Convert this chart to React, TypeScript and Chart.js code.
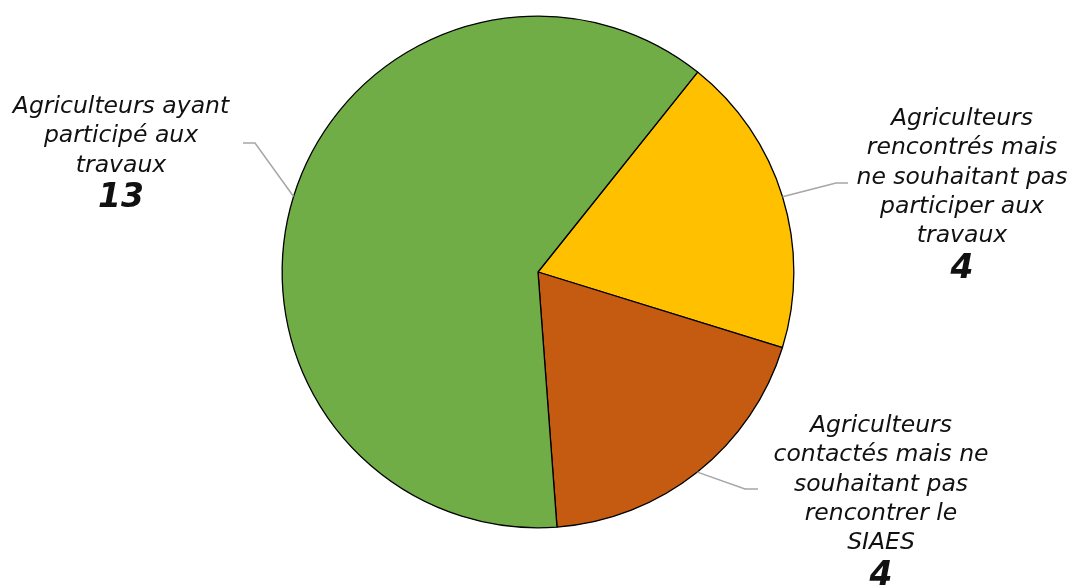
import React, { useEffect, useRef } from "react";
import { Chart, registerables } from "chart.js";

Chart.register(...registerables);

const categories: string[][] = [
  ["Agriculteurs", "rencontrés mais", "ne souhaitant pas", "participer aux", "travaux"],
  ["Agriculteurs", "contactés mais ne", "souhaitant pas", "rencontrer le", "SIAES"],
  ["Agriculteurs ayant", "participé aux", "travaux"],
];
const values: number[] = [4, 4, 13];
const colors: string[] = ["#FFC000", "#C55A11", "#70AD47"];

// label layout: text centre x, first line y, elbow x/y, end x
const labelLayout = [
  { cx: 962, y0: 119, ex: 836, ey: 183, endX: 848 },
  { cx: 881, y0: 426, ex: 745, ey: 489, endX: 758 },
  { cx: 121, y0: 107, ex: 255, ey: 143, endX: 243 },
];

const labelPlugin = {
  id: "outerLabels",
  afterDatasetsDraw(chart: any) {
    const ctx = chart.ctx;
    const meta = chart.getDatasetMeta(0);
    meta.data.forEach((arc: any, i: number) => {
      const p = arc.getProps(["x", "y", "startAngle", "endAngle", "outerRadius"], true);
      const mid = (p.startAngle + p.endAngle) / 2;
      const sx = p.x + Math.cos(mid) * p.outerRadius;
      const sy = p.y + Math.sin(mid) * p.outerRadius;
      const L = labelLayout[i];
      ctx.save();
      ctx.strokeStyle = "#A6A6A6";
      ctx.lineWidth = 1.5;
      ctx.beginPath();
      ctx.moveTo(sx, sy);
      ctx.lineTo(L.ex, L.ey);
      ctx.lineTo(L.endX, L.ey);
      ctx.stroke();
      ctx.fillStyle = "#111";
      ctx.textAlign = "center";
      ctx.textBaseline = "middle";
      ctx.font = "italic 23.5px 'DejaVu Sans'";
      const lines = categories[i];
      const lh = 29.3;
      lines.forEach((t, k) => ctx.fillText(t, L.cx, L.y0 + k * lh));
      ctx.font = "italic bold 33px 'DejaVu Sans'";
      ctx.fillText(String(values[i]), L.cx, L.y0 + lines.length * lh + 4);
      ctx.restore();
    });
  },
};

export default function App() {
  const ref = useRef<HTMLCanvasElement>(null);
  useEffect(() => {
    if (!ref.current) return;
    const chart = new Chart(ref.current, {
      type: "pie",
      data: {
        labels: categories.map((c) => c.join(" ")),
        datasets: [
          {
            data: values,
            backgroundColor: colors,
            borderColor: "#000",
            borderWidth: 1.3,
          },
        ],
      },
      options: {
        responsive: false,
        animation: false,
        rotation: 38.6,
        layout: { padding: { left: 200, right: 199, top: 15.5, bottom: 59.5 } },
        plugins: { legend: { display: false }, tooltip: { enabled: false } },
      },
      plugins: [labelPlugin],
    });
    return () => chart.destroy();
  }, []);
  return (
    <div style={{ position: "absolute", left: 0, top: 0, width: 1075, height: 588, background: "#fff" }}>
      <canvas ref={ref} width={1075} height={588} />
    </div>
  );
}
